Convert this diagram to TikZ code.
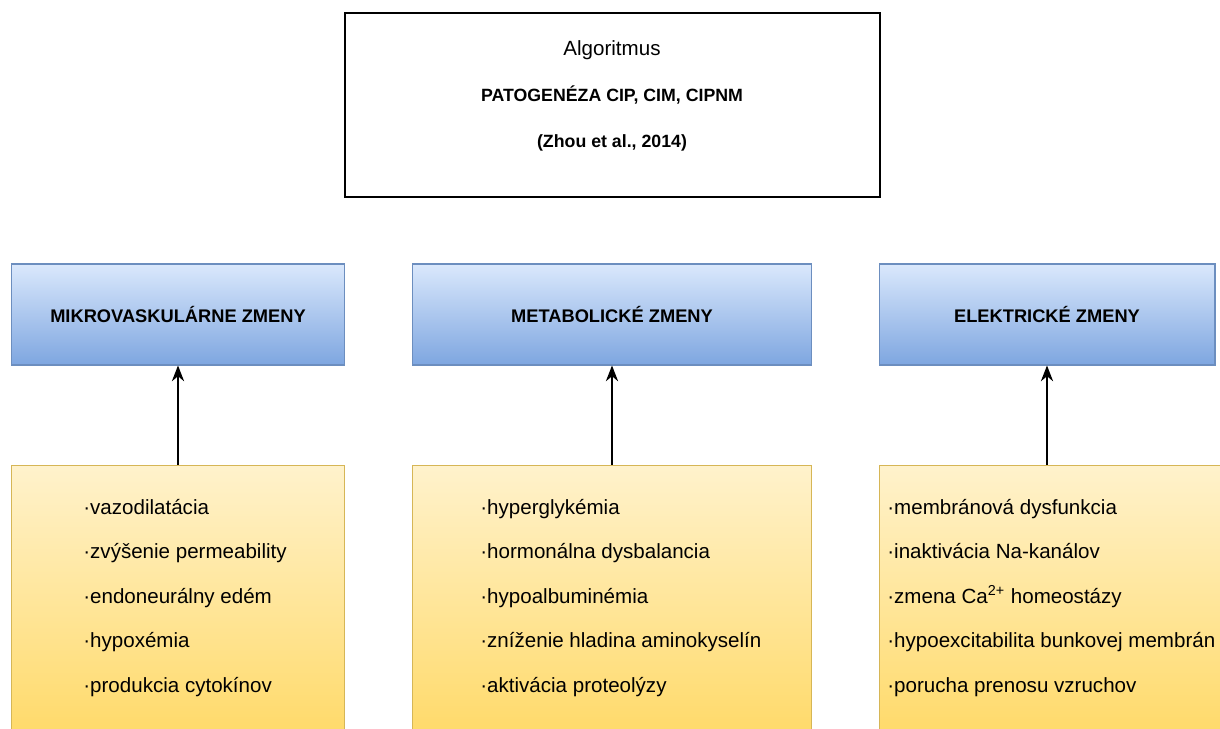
\documentclass[tikz,border=0pt]{standalone}
\usepackage{fontspec}
\setmainfont{Liberation Sans}
\usetikzlibrary{arrows.meta}
\definecolor{blueTop}{HTML}{DAE8FC}
\definecolor{blueBot}{HTML}{7EA6E0}
\definecolor{blueLine}{HTML}{6C8EBF}
\definecolor{yelTop}{HTML}{FFF2CC}
\definecolor{yelBot}{HTML}{FFD966}
\definecolor{yelLine}{HTML}{D6B656}
\tikzset{
	bluebox/.style={draw=blueLine, line width=0.6pt, top color=blueTop, bottom color=blueBot, minimum height=2.02cm, inner sep=0pt, font=\fontsize{10.4}{12}\selectfont\bfseries},
	yelbox/.style={draw=yelLine, line width=0.6pt, top color=yelTop, bottom color=yelBot, minimum height=5.6cm, inner sep=0pt},
	listtext/.style={anchor=west, align=left, inner sep=0pt, font=\fontsize{11.7}{25.3}\selectfont},
	arr/.style={-{Stealth[length=9pt, width=7pt]}, line width=0.7pt}
}

\begin{document}
\begin{tikzpicture}[x=0.02cm, y=-0.02cm]
			%%%%% START %%%%%
			\useasboundingbox (0, 0) rectangle (1220, 729);
			\clip (0, 0) rectangle (1220, 729);
			\fill[white] (0, 0) rectangle (1220, 729);
			
			% title
			\node[draw, line width=0.8pt, minimum width=10.7cm, minimum height=3.68cm] (algo) at (612.5, 105) {};
			\node[align=center, inner sep=0pt, font=\fontsize{11.7}{26.2}\selectfont] (algotext) at (612, 95.5)
				{Algoritmus\\{\fontsize{10.1}{26.2}\selectfont\bfseries PATOGENÉZA CIP, CIM, CIPNM}\\{\fontsize{10.1}{26.2}\selectfont\bfseries (Zhou et al., 2014)}};
			
			% changes
			\node[bluebox, minimum width=6.68cm] (mikro) at (178, 314.5) {MIKROVASKULÁRNE ZMENY};
			\node[bluebox, minimum width=8.0cm] (meta) at (612, 314.5) {METABOLICKÉ ZMENY};
			\node[bluebox, minimum width=6.72cm] (elek) at (1047, 314.5) {ELEKTRICKÉ ZMENY};
			
			% causes
			\node[yelbox, minimum width=6.68cm] (mikrozm) at (178, 605) {};
			\node[yelbox, minimum width=8.0cm] (metazm) at (612, 605) {};
			\node[yelbox, minimum width=7.42cm] (elekzm) at (1064.5, 605) {};
			
			\node[listtext] (mikrolist) at (83, 598) {·vazodilatácia\\·zvýšenie permeability\\·endoneurálny edém\\·hypoxémia\\·produkcia cytokínov};
			\node[listtext] (metalist) at (480, 598) {·hyperglykémia\\·hormonálna dysbalancia\\·hypoalbuminémia\\·zníženie hladina aminokyselín\\·aktivácia proteolýzy};
			\node[listtext] (eleklist) at (887, 598) {·membránová dysfunkcia\\·inaktivácia Na-kanálov\\·zmena Ca\textsuperscript{2+} homeostázy\\·hypoexcitabilita bunkovej membrán\\·porucha prenosu vzruchov};
			
			\draw[arr] (mikro.south |- mikrozm.north) -- (mikro.south);
			\draw[arr] (meta.south |- metazm.north) -- (meta.south);
			\draw[arr] (elek.south |- elekzm.north) -- (elek.south);
			%%%%% END %%%%%
\end{tikzpicture}
\end{document}
